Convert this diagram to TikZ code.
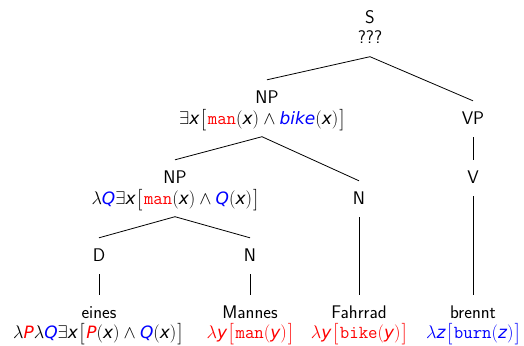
\RequirePackage{fix-cm}
\documentclass[tikz,border=0pt]{standalone}
\usepackage[no-math]{fontspec}
\usepackage{xcolor}
\newfontfamily\mathsans{DejaVu Sans}
\newcommand\sv[1]{\mbox{\fontsize{17}{20}\mathsans\itshape #1}}
\newcommand\tw[1]{\mbox{\ttfamily #1}}
\newcommand\bigbr[1]{\mbox{\fontsize{21.5}{21.5}\selectfont\rmfamily\raisebox{-1pt}{#1}}}
\newcommand\lbr{\mkern1.5mu\mathopen{\bigbr{[}}\mkern1.5mu}
\newcommand\rbr{\mkern1mu\mathclose{\bigbr{]}}}
\begin{document}
\begin{tikzpicture}[x=1pt,y=-1pt,
  lbl/.style={anchor=base, inner sep=0pt, text height=23.5pt, text depth=12.5pt,
    font=\fontsize{18.3}{20.5}\selectfont\sffamily},
  edge/.style={line width=0.8pt}]
\useasboundingbox (0,0) rectangle (524,345);
\node[lbl] (s) at (370,23.5) {S};
\node[lbl] (sf) at (370,44) {???};
\node[lbl] (np1) at (267,103.5) {NP};
\node[lbl] (np1f) at (262,124) {$\exists\sv{x}\lbr\textcolor{red}{\tw{man}}(\sv{x})\wedge\textcolor{blue}{\sv{bike}}(\sv{x})\rbr$};
\node[lbl] (vp) at (473,124.5) {VP};
\node[lbl] (np2) at (175,183.5) {NP};
\node[lbl] (np2f) at (175,204) {$\lambda\textcolor{blue}{\sv{Q}}\exists\sv{x}\lbr\textcolor{red}{\tw{man}}(\sv{x})\wedge\textcolor{blue}{\sv{Q}}(\sv{x})\rbr$};
\node[lbl] (n3) at (359,204.5) {N};
\node[lbl] (v) at (473,183.5) {V};
\node[lbl] (d) at (99,261.5) {D};
\node[lbl] (n2) at (250,261.5) {N};
\node[lbl] (l1) at (99,318.5) {eines};
\node[lbl] (l1f) at (98,338.5) {$\lambda\textcolor{red}{\sv{P}}\lambda\textcolor{blue}{\sv{Q}}\exists\sv{x}\lbr\textcolor{red}{\sv{P}}(\sv{x})\wedge\textcolor{blue}{\sv{Q}}(\sv{x})\rbr$};
\node[lbl] (l2) at (250,318.5) {Mannes};
\node[lbl] (l2f) at (250,338.5) {\textcolor{red}{$\lambda\sv{y}\lbr\tw{man}(\sv{y})\rbr$}};
\node[lbl] (l3) at (359,318.5) {Fahrrad};
\node[lbl] (l3f) at (359,338.5) {\textcolor{red}{$\lambda\sv{y}\lbr\tw{bike}(\sv{y})\rbr$}};
\node[lbl] (l4) at (473,318.5) {brennt};
\node[lbl] (l4f) at (473,338.5) {\textcolor{blue}{$\lambda\sv{z}\lbr\tw{burn}(\sv{z})\rbr$}};
\draw[edge] (sf.south) -- (np1.north);
\draw[edge] (sf.south) -- (vp.north);
\draw[edge] (np1f.south) -- (np2.north);
\draw[edge] (np1f.south) -- (n3.north);
\draw[edge] (vp.south) -- (v.north);
\draw[edge] (np2f.south) -- (d.north);
\draw[edge] (np2f.south) -- (n2.north);
\draw[edge] (d.south) -- (l1.north);
\draw[edge] (n2.south) -- (l2.north);
\draw[edge] (n3.south) -- (l3.north);
\draw[edge] (v.south) -- (l4.north);
\end{tikzpicture}
\end{document}
